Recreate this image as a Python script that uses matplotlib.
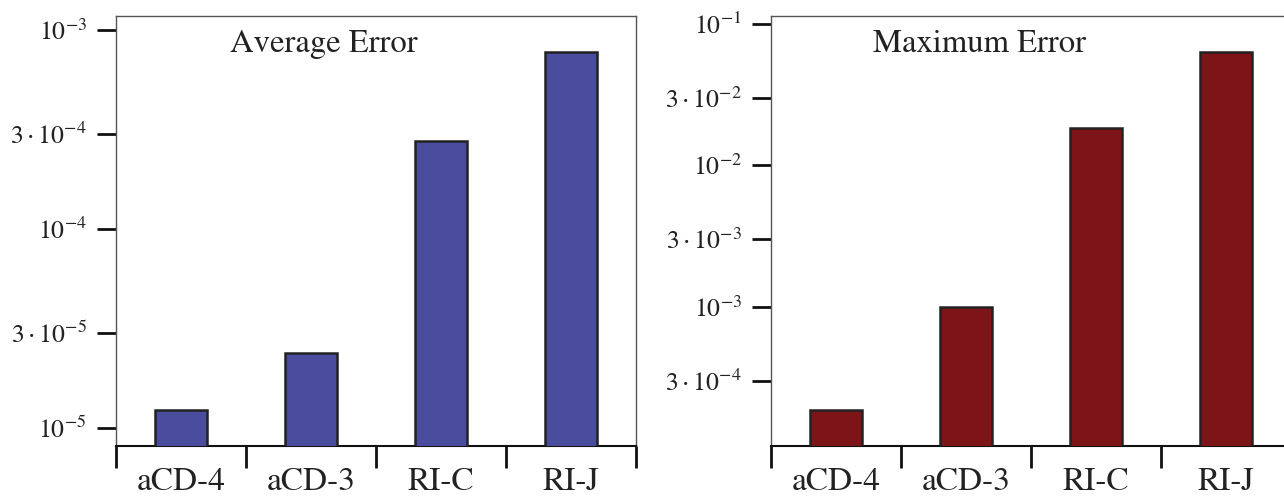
import numpy as np
import matplotlib
matplotlib.use('Agg')
import matplotlib.pyplot as plt
from matplotlib.ticker import FixedLocator, FixedFormatter, NullFormatter

plt.rcParams['font.family'] = ['STIXGeneral', 'DejaVu Serif']
plt.rcParams['mathtext.fontset'] = 'stix'

# 数据
methods = ['aCD-4', 'aCD-3', 'RI-C', 'RI-J']
avg_error = [1.23e-5, 2.38e-5, 2.77e-4, 7.74e-4]
max_error = [1.87e-4, 1.0e-3, 1.84e-2, 6.34e-2]

avg_ticks = [1e-5, 3e-5, 1e-4, 3e-4, 1e-3]
avg_labels = [r'$10^{-5}$', r'$3\cdot10^{-5}$', r'$10^{-4}$', r'$3\cdot10^{-4}$', r'$10^{-3}$']
max_ticks = [3e-4, 1e-3, 3e-3, 1e-2, 3e-2, 1e-1]
max_labels = [r'$3\cdot10^{-4}$', r'$10^{-3}$', r'$3\cdot10^{-3}$', r'$10^{-2}$', r'$3\cdot10^{-2}$', r'$10^{-1}$']

fig = plt.figure(figsize=(12.84, 4.96), dpi=100)
ax1 = fig.add_axes([0.0903, 0.1008, 0.405, 0.867])
ax2 = fig.add_axes([0.6005, 0.1008, 0.405, 0.867])


def draw(ax, values, color, title, ticks, labels, ylim):
    x = np.arange(len(methods))
    ax.bar(x, values, width=0.4, color=color, edgecolor='#222222', linewidth=1.8, zorder=3)
    ax.set_yscale('log')
    ax.set_ylim(*ylim)
    ax.set_xlim(-0.5, len(methods) - 0.5)

    # y 轴刻度
    ax.yaxis.set_major_locator(FixedLocator(ticks))
    ax.yaxis.set_major_formatter(FixedFormatter(labels))
    ax.yaxis.set_minor_locator(FixedLocator([]))
    ax.yaxis.set_minor_formatter(NullFormatter())
    ax.tick_params(axis='y', which='major', direction='out', length=14, width=2,
                   labelsize=18.5, pad=7, color='#111111', labelcolor='#222222')

    # x 轴：刻度在分界处，标签在中间
    ax.xaxis.set_major_locator(FixedLocator(np.arange(-0.5, len(methods), 1.0)))
    ax.xaxis.set_major_formatter(NullFormatter())
    ax.xaxis.set_minor_locator(FixedLocator(x))
    ax.xaxis.set_minor_formatter(FixedFormatter(methods))
    ax.tick_params(axis='x', which='major', direction='out', length=16, width=2, color='#111111')
    ax.tick_params(axis='x', which='minor', length=0, labelsize=24, pad=15.5, labelcolor='#222222')

    for side in ['top', 'right', 'left']:
        ax.spines[side].set_color('#555555')
        ax.spines[side].set_linewidth(1.0)
    ax.spines['bottom'].set_color('#111111')
    ax.spines['bottom'].set_linewidth(1.5)

    ax.text(0.4, 0.935, title, transform=ax.transAxes, ha='center', va='center',
            fontsize=23.5, color='#222222')


draw(ax1, avg_error, '#4A4C9E', 'Average Error', avg_ticks, avg_labels, (8.12e-6, 1.176e-3))
draw(ax2, max_error, '#7D1518', 'Maximum Error', max_ticks, max_labels, (1.042e-4, 0.1139))

fig.savefig('out.png', dpi=100)
